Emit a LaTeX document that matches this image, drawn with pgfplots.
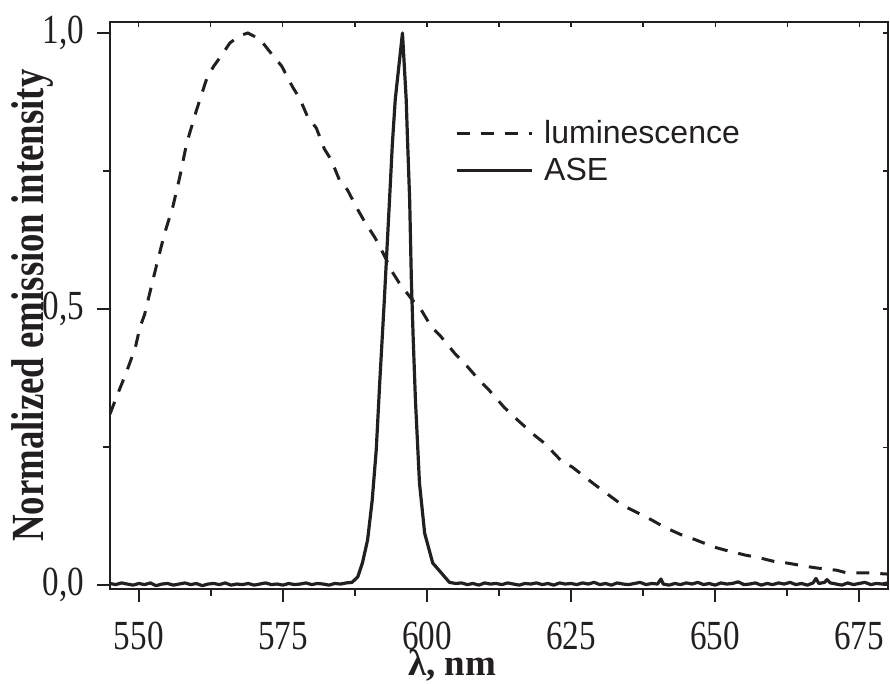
\documentclass[border=0pt]{standalone}
\usepackage{fontspec}
\setmainfont{Liberation Serif}[FakeStretch=0.8]
\newfontfamily\tnr{Liberation Serif}
\newfontfamily\arial{Liberation Sans}
\usepackage{pgfplots}
\pgfplotsset{compat=1.18}
\definecolor{ink}{HTML}{231F20}
\begin{document}
\begin{tikzpicture}
\begin{axis}[
  name=ax, scale only axis, width=389bp, height=283.5bp,
  xmin=545, xmax=680, ymin=-0.007, ymax=1.02,
  xtick={550,575,...,675}, minor xtick={562.5,587.5,...,675},
  ytick={0,0.5,1}, minor ytick={0.25,0.75},
  tick align=outside, xtick pos=left, ytick pos=left,
  major tick length=6.5bp, minor tick length=3.5bp,
  every tick/.style={ink, line width=1bp},
  axis line style={ink, line width=1.25bp},
  /pgf/number format/assume math mode=true,
  yticklabel style={/pgf/number format/fixed, /pgf/number format/fixed zerofill, /pgf/number format/precision=1, /pgf/number format/use comma, xshift=-3bp},
  xticklabel style={/pgf/number format/1000 sep={}, anchor=base, yshift=-23.5bp},
  tick label style={font=\fontsize{20.7bp}{22bp}\selectfont, text=ink},
  xlabel={\textbf{λ, nm}},
  ylabel={\textbf{Normalized emission intensity}},
  label style={font=\fontsize{23bp}{25bp}\selectfont, text=ink},
  xlabel style={font=\tnr\fontsize{18.5bp}{20bp}\selectfont, at={(axis description cs:0.44,-0.1534)}, anchor=base},
  ylabel style={at={(axis description cs:-0.099,0.5)}, anchor=center, rotate=0},
  legend style={draw=none, fill=none, at={(rel axis cs:0.443,0.835)}, anchor=north west,
    font=\arial\fontsize{16bp}{18bp}\selectfont, inner sep=0pt, row sep=2bp, cells={anchor=west, text=ink}},
  legend image code/.code={\draw[#1] (0bp,0bp) -- (37.5bp,0bp); \path (41bp,0bp);},
]
\addplot[ink, line width=1.5bp, dash pattern=on 6.5bp off 5.5bp] coordinates {
(545.0,0.310) (546.4,0.348) (547.1,0.366) (548.0,0.390) (548.8,0.413) (549.3,0.426)
(550.2,0.467) (551.0,0.490) (551.9,0.529) (553.3,0.589) (554.5,0.638) (555.9,0.685)
(557.1,0.739) (558.3,0.800) (560.0,0.860) (561.8,0.918) (563.0,0.940) (564.4,0.960)
(565.8,0.982) (567.5,0.995) (568.9,1.000) (571.0,0.989) (573.2,0.960) (574.8,0.940)
(576.7,0.902) (577.9,0.882) (579.3,0.848) (580.8,0.828) (582.2,0.790) (583.4,0.770)
(584.8,0.734) (586.2,0.716) (588.0,0.680) (589.2,0.658) (591.0,0.629) (592.3,0.603)
(594.0,0.567) (595.2,0.547) (597.5,0.516) (598.7,0.504) (600.8,0.467) (602.2,0.453)
(604.8,0.420) (606.5,0.402) (609.1,0.371) (610.8,0.353) (613.4,0.322) (615.2,0.304)
(618.6,0.272) (620.4,0.257) (623.5,0.223) (625.2,0.214) (628.5,0.187) (630.4,0.172)
(633.9,0.145) (635.6,0.136) (639.0,0.118) (641.2,0.105) (644.6,0.089) (646.4,0.083)
(649.8,0.069) (651.9,0.063) (655.4,0.054) (657.1,0.051) (660.6,0.042) (662.5,0.040)
(665.8,0.034) (667.7,0.031) (671.1,0.027) (672.9,0.022) (676.7,0.022) (678.4,0.021)
(680.0,0.020)
};
\addlegendentry{luminescence}
\addplot[ink, line width=1.6bp, line join=round] coordinates {
(545,0.003) (546,0.001) (547,0.004) (548,0.002) (549,0.000) (550,0.003) (551,0.001)
(552,0.004) (553,-0.001) (554,0.002) (555,0.003) (556,0.000) (557,0.002) (558,0.004)
(559,0.001) (560,0.003) (561,-0.001) (562,0.002) (563,0.003) (564,0.001) (565,0.004)
(566,0.000) (567,0.002) (568,0.001) (569,0.003) (570,0.000) (571,0.002) (572,0.004)
(573,0.001) (574,0.002) (575,0.000) (576,0.003) (577,0.001) (578,0.002) (579,0.004)
(580,0.001) (581,0.003) (582,0.002) (583,0.000) (584,0.003) (585,0.002) (586,0.004)
(587.0,0.005) (588.0,0.015) (588.8,0.040) (589.7,0.082) (590.5,0.154) (591.2,0.245)
(591.8,0.366) (592.6,0.516) (593.5,0.697) (594.0,0.800) (594.5,0.880) (595.75,1.000)
(596.4,0.879) (596.6,0.815) (597.0,0.697) (597.3,0.550) (597.6,0.450) (598.0,0.335)
(598.7,0.185) (599.6,0.094) (601.0,0.040) (602.5,0.022) (603.9,0.005)
(605,0.003) (606,0.004) (607,0.001) (608,0.003) (609,0.000) (610,0.004) (611,0.002)
(612,0.003) (613,0.001) (614,0.004) (615,0.002) (616,0.000) (617,0.003) (618,0.002)
(619,0.004) (620,0.001) (621,0.003) (622,0.000) (623,0.004) (624,0.002) (625,0.003)
(626,0.001) (627,0.004) (628,0.002) (629,0.005) (630,0.001) (631,0.003) (632,0.000)
(633,0.004) (634,0.002) (635,0.001) (636,0.003) (637,0.005) (638,0.001) (639,0.003)
(640,0.002) (640.6,0.011) (641,0.002) (642,0.000) (643,0.003) (644,0.001) (645,0.004)
(646,0.002) (647,0.005) (648,0.001) (649,0.003) (650,0.000) (651,0.004) (652,0.002)
(653,0.003) (654,0.006) (655,0.001) (656,0.002) (657,0.004) (658,0.000) (659,0.003)
(660,0.001) (661,0.004) (662,0.002) (663,0.005) (664,0.001) (665,0.003) (666,0.000)
(667,0.004) (667.5,0.012) (668,0.003) (669,0.005) (669.4,0.010) (670,0.004) (671,0.002)
(672,0.000) (673,0.004) (674,0.001) (675,0.003) (676,0.005) (677,0.001) (678,0.003)
(679,0.002) (680,0.004)
};
\addlegendentry{ASE}
\end{axis}
\begin{axis}[
  scale only axis, width=389bp, height=283.5bp, at={(ax.south west)}, anchor=south west,
  xmin=545, xmax=680, ymin=-0.007, ymax=1.02,
  xtick={550,575,...,675}, minor xtick={562.5,587.5,...,675},
  ytick={0,0.5,1}, minor ytick={0.25,0.75},
  tick align=inside, xtick pos=right, ytick pos=right,
  xticklabels={}, yticklabels={},
  major tick length=2.5bp, minor tick length=2.5bp,
  every tick/.style={ink, line width=0.6bp},
  axis line style={draw=none},
]
\end{axis}
\pgfresetboundingbox
\path ([xshift=-55bp,yshift=-47.5bp]ax.south west) rectangle ([xshift=1bp,yshift=11bp]ax.north east);
\end{tikzpicture}
\end{document}
